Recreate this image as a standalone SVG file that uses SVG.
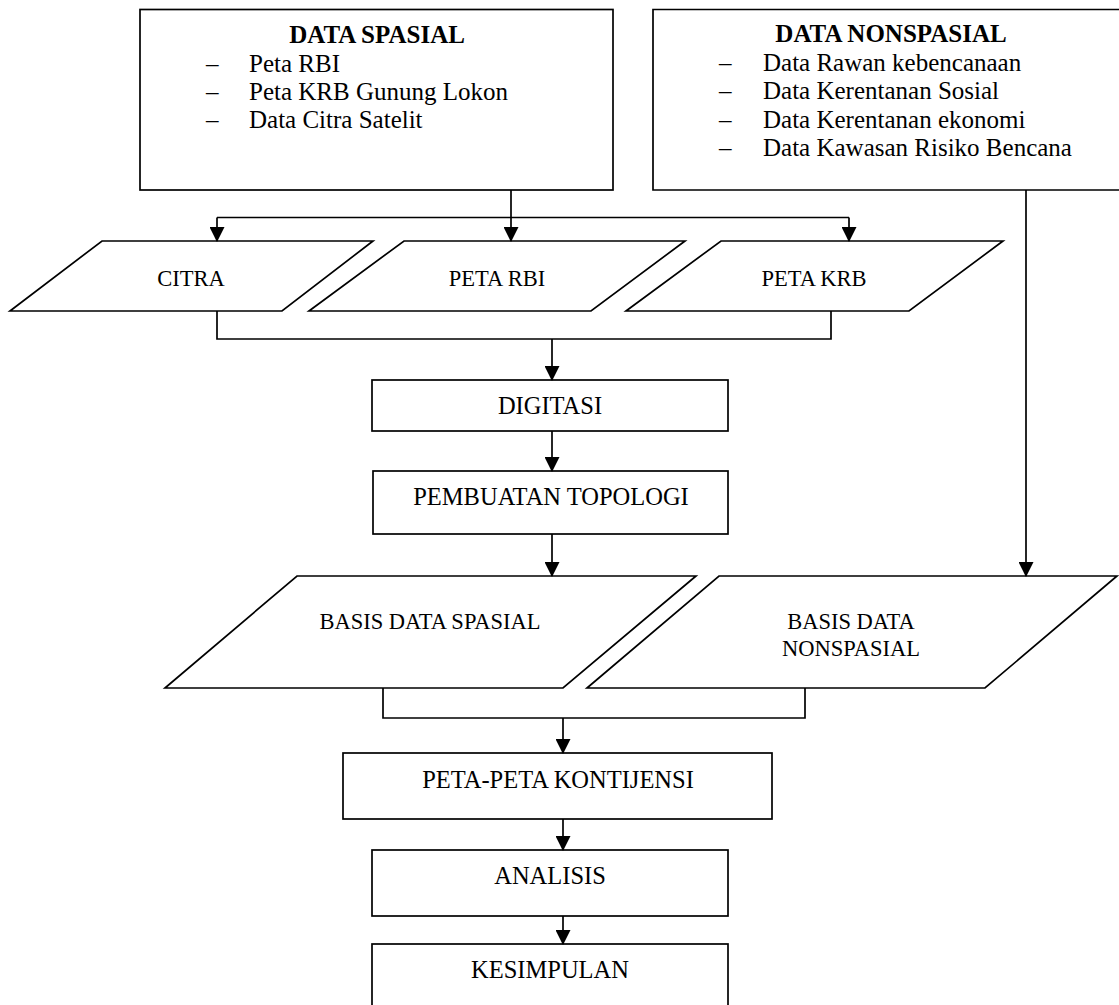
<svg xmlns="http://www.w3.org/2000/svg" width="1119" height="1005" viewBox="0 0 1119 1005">
<defs>
<marker id="ah" markerWidth="15" markerHeight="15" viewBox="0 0 14 14" refX="13" refY="7" orient="auto" markerUnits="userSpaceOnUse">
<path d="M0,0 L14,7 L0,14 Z" fill="#000"/>
</marker>
</defs>
<style>
.shape{fill:#fff;stroke:#000;stroke-width:1.7}
.line{fill:none;stroke:#000;stroke-width:1.7}
.arr{fill:none;stroke:#000;stroke-width:1.7;marker-end:url(#ah)}
text{font-family:"Liberation Serif","Times New Roman",serif;fill:#000}
.t25{font-size:25px}
.b25{font-size:25px;font-weight:bold}
.t24{font-size:24.5px}
.t22{font-size:22.5px}
</style>
<rect width="1119" height="1005" fill="#fff"/>

<g id="data-spasial">
<rect class="shape" x="140" y="9.5" width="473" height="180.5"/>
<text class="b25" x="377" y="43" text-anchor="middle">DATA SPASIAL</text>
<text class="t25" x="206" y="72">–</text><text class="t25" x="249" y="72">Peta RBI</text>
<text class="t25" x="206" y="100">–</text><text class="t25" x="249" y="100">Peta KRB Gunung Lokon</text>
<text class="t25" x="206" y="128">–</text><text class="t25" x="249" y="128">Data Citra Satelit</text>
</g>

<g id="data-nonspasial">
<path class="shape" d="M1130,9.5 H653 V190 H1130"/>
<text class="b25" x="891" y="42" text-anchor="middle">DATA NONSPASIAL</text>
<text class="t25" x="719" y="71">–</text><text class="t25" x="763" y="71">Data Rawan kebencanaan</text>
<text class="t25" x="719" y="99">–</text><text class="t25" x="763" y="99">Data Kerentanan Sosial</text>
<text class="t25" x="719" y="127.5">–</text><text class="t25" x="763" y="127.5">Data Kerentanan ekonomi</text>
<text class="t25" x="719" y="156">–</text><text class="t25" x="763" y="156">Data Kawasan Risiko Bencana</text>
</g>

<g id="citra">
<polygon class="shape" points="102,241 373,241 282,311 10,311"/>
<text class="t22" x="191" y="286" text-anchor="middle">CITRA</text>
</g>
<g id="peta-rbi">
<polygon class="shape" points="404,241 685,241 591,311 309,311"/>
<text class="t22" x="497" y="286" text-anchor="middle">PETA RBI</text>
</g>
<g id="peta-krb">
<polygon class="shape" points="721,241 1003,241 909,311 626,311"/>
<text class="t22" x="814" y="286" text-anchor="middle">PETA KRB</text>
</g>

<g id="digitasi">
<rect class="shape" x="372" y="380" width="356" height="51"/>
<text class="t24" x="550" y="414" text-anchor="middle">DIGITASI</text>
</g>
<g id="pembuatan-topologi">
<rect class="shape" x="373" y="471" width="355" height="63"/>
<text class="t24" x="551" y="505" text-anchor="middle">PEMBUATAN TOPOLOGI</text>
</g>

<g id="basis-data-spasial">
<polygon class="shape" points="297,576 696,576 563,688 165,688"/>
<text class="t22" x="430" y="629" text-anchor="middle">BASIS DATA SPASIAL</text>
</g>
<g id="basis-data-nonspasial">
<polygon class="shape" points="719,576 1117,576 985,688 587,688"/>
<text class="t22" x="851" y="629" text-anchor="middle">BASIS DATA</text>
<text class="t22" x="851" y="656" text-anchor="middle">NONSPASIAL</text>
</g>

<g id="peta-peta-kontijensi">
<rect class="shape" x="343" y="753" width="429" height="66"/>
<text class="t24" x="558" y="788" text-anchor="middle">PETA-PETA KONTIJENSI</text>
</g>
<g id="analisis">
<rect class="shape" x="372" y="850" width="356" height="66"/>
<text class="t24" x="550" y="884" text-anchor="middle">ANALISIS</text>
</g>
<g id="kesimpulan">
<rect class="shape" x="372" y="944" width="356" height="80"/>
<text class="t24" x="550" y="978" text-anchor="middle">KESIMPULAN</text>
</g>

<g id="connectors">
<path class="arr" d="M511,190 V241"/>
<path class="line" d="M217,217.5 H849"/>
<path class="arr" d="M217,217.5 V241"/>
<path class="arr" d="M849,217.5 V241"/>
<path class="line" d="M217,311 V339 H831 V311"/>
<path class="arr" d="M552,339 V380"/>
<path class="arr" d="M552,431 V471"/>
<path class="arr" d="M552,534 V576"/>
<path class="arr" d="M1026,190 V576"/>
<path class="line" d="M383,688 V718 H805 V688"/>
<path class="arr" d="M563,718 V753"/>
<path class="arr" d="M563,819 V850"/>
<path class="arr" d="M563,916 V944"/>
</g>
</svg>
